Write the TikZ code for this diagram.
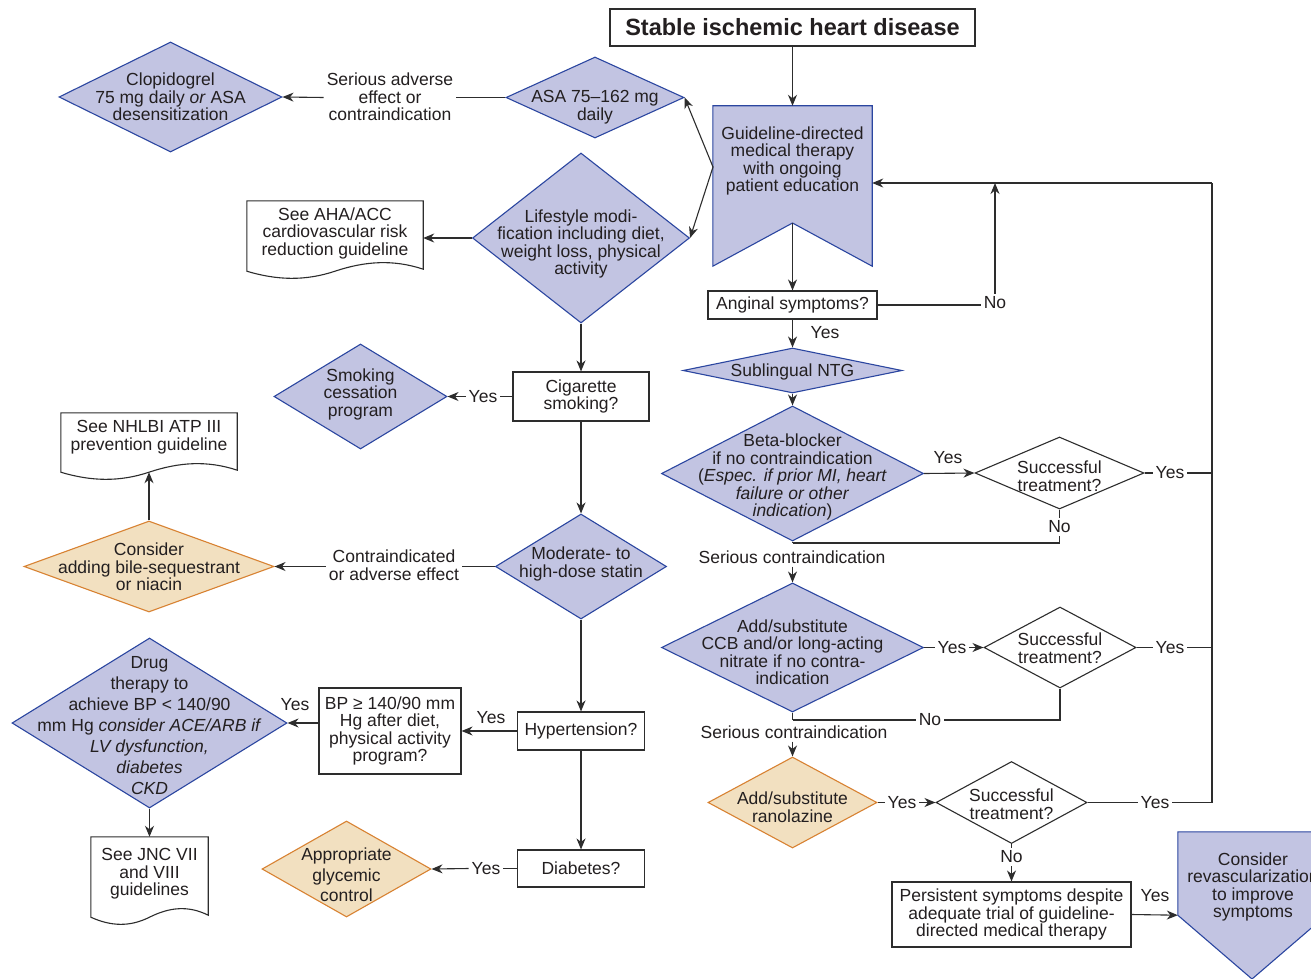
\documentclass[tikz,border=0pt]{standalone}
\usepackage{fontspec}
\setmainfont{Liberation Sans}
\usetikzlibrary{shapes.geometric,arrows.meta,calc}
\definecolor{lavfill}{RGB}{194,196,226}
\definecolor{lavdraw}{RGB}{43,70,160}
\definecolor{orfill}{RGB}{242,224,192}
\definecolor{ordraw}{RGB}{216,130,50}
\definecolor{ink}{RGB}{45,45,45}
\definecolor{txtc}{RGB}{35,31,32}
\newcommand{\fsn}{\fontsize{17.5}{17.5}\selectfont}
\newcommand{\docoutline}[1]{%
 \draw[ink,line width=1.1pt,fill=white] (#1.south west) -- (#1.north west) -- (#1.north east) -- ($(#1.south east)+(0,-2)$)
  .. controls ($(#1.south east)!0.17!(#1.south west)+(0,-12)$) and ($(#1.south east)!0.33!(#1.south west)+(0,-10)$) .. (#1.south)
  .. controls ($(#1.south east)!0.67!(#1.south west)+(0,10)$) and ($(#1.south east)!0.83!(#1.south west)+(0,9)$) .. (#1.south west) -- cycle;}
\begin{document}
\begin{tikzpicture}[x=1pt,y=-1pt,
 conn/.style={draw=ink,line width=1.1pt},
 arr/.style={conn,-{Stealth[length=11pt,width=9pt,inset=3.5pt]}},
 shp/.style={inner sep=0pt,line width=1.1pt},
 lavdia/.style={shp,diamond,draw=lavdraw,fill=lavfill},
 ordia/.style={shp,diamond,draw=ordraw,fill=orfill},
 whdia/.style={shp,diamond,draw=ink,fill=white},
 box/.style={shp,rectangle,draw=ink,fill=white,align=center,font=\fsn,text=txtc},
 ghost/.style={rectangle,inner sep=0pt,draw=none},
 txt/.style={align=center,inner sep=0pt,font=\fsn,text=txtc},
 lbl/.style={align=center,inner sep=3pt,font=\fsn,text=txtc}]
\useasboundingbox (0,0) rectangle (1311,979);
\fill[white] (0,0) rectangle (1311,979);
\clip (0,0) rectangle (1311,979);

% title
\node[box,font=\fontsize{23.5}{24}\selectfont\bfseries,minimum width=365,minimum height=37] (title) at (792.5,27.5) {Stable ischemic heart disease};

% GDMT banner
\node[ghost,minimum width=159,minimum height=160] (gdmt) at (792.5,186) {};
\coordinate (gdmtN) at (792.5,223);
\coordinate (gdmtL) at (713,167);
\draw[lavdraw,fill=lavfill,line width=1.1pt] (gdmt.north west) -- (gdmt.north east) -- (gdmt.south east) -- (gdmtN) -- (gdmt.south west) -- cycle;
\node[txt] (gdmtT) at (792.5,161) {Guideline-directed\\medical therapy\\with ongoing\\patient education};

% ASA / clopidogrel
\node[lavdia,minimum width=178,minimum height=81] (asa) at (595,97.5) {};
\node[txt] (asaT) at (595,107) {ASA 75–162 mg\\daily};
\node[lavdia,minimum width=223,minimum height=110] (clop) at (170.5,97) {};
\node[txt] (clopT) at (170.5,97) {Clopidogrel\\75 mg daily \textit{or} ASA\\desensitization};
\node[lbl] (sae) at (390,97) {Serious adverse\\effect or\\contraindication};

% lifestyle
\node[lavdia,minimum width=217,minimum height=170] (life) at (581,238) {};
\node[txt] (lifeT) at (581,244) {Lifestyle modi-\\fication including diet,\\weight loss, physical\\activity};
\node[ghost,minimum width=176,minimum height=70] (aha) at (335,236) {};
\docoutline{aha}
\node[txt] (ahaT) at (335,233) {See AHA/ACC\\cardiovascular risk\\reduction guideline};

% cigarette
\node[box,minimum width=136,minimum height=49] (cig) at (581,396.5) {Cigarette\\smoking?};
\node[lbl] (ycig) at (483,396.5) {Yes};
\node[lavdia,minimum width=173,minimum height=105] (smoke) at (360.5,396.5) {};
\node[txt] (smokeT) at (360.5,394) {Smoking\\cessation\\program};

% statin
\node[lavdia,minimum width=171,minimum height=105] (statin) at (581,566.5) {};
\node[txt] (statinT) at (581,564) {Moderate- to\\high-dose statin};
\node[lbl] (contra) at (394,565) {Contraindicated\\or adverse effect};
\node[ordia,minimum width=250,minimum height=91] (consider) at (149,566.5) {};
\node[txt] (considerT) at (149,567) {Consider\\adding bile-sequestrant\\or niacin};
\node[ghost,minimum width=176,minimum height=59] (nhlbi) at (149,442.5) {};
\docoutline{nhlbi}
\node[txt] (nhlbiT) at (149,437) {See NHLBI ATP III\\prevention guideline};

% hypertension
\node[box,minimum width=127,minimum height=38] (hyp) at (581,731) {Hypertension?};
\node[lbl] (yhyp) at (491,718) {Yes};
\node[box,minimum width=142,minimum height=86] (bp) at (390,731) {BP ≥ 140/90 mm\\Hg after diet,\\physical activity\\program?};
\node[lbl] (ybp) at (295,705) {Yes};
\node[lavdia,minimum width=275,minimum height=170] (drug) at (149.5,723) {};
\node[txt,font=\fontsize{17.5}{21}\selectfont] (drugT) at (149.5,726) {Drug\\therapy to\\achieve BP < 140/90\\mm Hg \textit{consider ACE/ARB if}\\\textit{LV dysfunction,}\\\textit{diabetes}\\\textit{CKD}};
\node[ghost,minimum width=117,minimum height=80] (jnc) at (149.5,877) {};
\docoutline{jnc}
\node[txt] (jncT) at (149.5,874) {See JNC VII\\and VIII\\guidelines};

% diabetes
\node[box,minimum width=127,minimum height=37] (diab) at (581,868.5) {Diabetes?};
\node[lbl] (ydiab) at (486,868.5) {Yes};
\node[ordia,minimum width=169,minimum height=96] (gly) at (346.5,869) {};
\node[txt,font=\fontsize{17.5}{20.5}\selectfont] (glyT) at (346.5,875) {Appropriate\\glycemic\\control};

% right column
\node[box,minimum width=169,minimum height=28] (ang) at (792.5,305) {Anginal symptoms?};
\node[lbl] (yang) at (825,333) {Yes};
\node[lbl] (nang) at (995,303) {No};
\coordinate (fbTop) at (1212,183);
\node[lavdia,minimum width=219,minimum height=45] (ntg) at (792.5,370.5) {};
\node[txt] (ntgT) at (792.5,372) {Sublingual NTG};
\node[lavdia,minimum width=262,minimum height=135] (beta) at (792.5,473.5) {};
\node[txt] (betaT) at (792.5,477) {Beta-blocker\\if no contraindication\\(\textit{Espec. if prior MI, heart}\\\textit{failure or other}\\\textit{indication})};
\node[lbl] (ybeta) at (948,458) {Yes};
\node[whdia,minimum width=169,minimum height=72] (s1) at (1059.5,473) {};
\node[txt] (s1T) at (1059.5,476) {Successful\\treatment?};
\node[lbl] (ys1) at (1170,473) {Yes};
\node[lbl] (ns1) at (1059.5,527) {No};
\coordinate (j1) at (792.5,543);
\node[lbl] (sc1) at (792,557) {Serious contraindication};
\node[lavdia,minimum width=262,minimum height=129] (ccb) at (792.5,647.5) {};
\node[txt] (ccbT) at (792.5,652) {Add/substitute\\CCB and/or long-acting\\nitrate if no contra-\\indication};
\node[lbl] (yccb) at (952,647.5) {Yes};
\node[whdia,minimum width=152,minimum height=81] (s2) at (1060,647.5) {};
\node[txt] (s2T) at (1060,648) {Successful\\treatment?};
\node[lbl] (ys2) at (1170,647.5) {Yes};
\node[lbl] (ns2) at (930,720) {No};
\coordinate (j2) at (792.5,720);
\node[lbl] (sc2) at (794,732) {Serious contraindication};
\node[ordia,minimum width=169,minimum height=91] (ran) at (792.5,802.5) {};
\node[txt] (ranT) at (792.5,807) {Add/substitute\\ranolazine};
\node[lbl] (yran) at (902,802.5) {Yes};
\node[whdia,minimum width=151,minimum height=82] (s3) at (1011.5,802.5) {};
\node[txt] (s3T) at (1011.5,804) {Successful\\treatment?};
\node[lbl] (ys3) at (1155,802.5) {Yes};
\node[lbl] (ns3) at (1011.5,857) {No};
\node[box,minimum width=239,minimum height=65] (pers) at (1011.5,914.5) {Persistent symptoms despite\\adequate trial of guideline-\\directed medical therapy};
\node[lbl] (ypers) at (1155,896) {Yes};
\node[ghost,minimum width=148,minimum height=83] (rev) at (1252,873.5) {};
\coordinate (revA) at (1252,979);
\draw[lavdraw,fill=lavfill,line width=1.1pt] (rev.north west) -- (rev.north east) -- (rev.south east) -- (revA) -- (rev.south west) -- cycle;
\node[txt] (revT) at (1253,887) {Consider\\revascularization\\to improve\\symptoms};

% connectors left
\draw[arr] (title.south) -- (gdmt.north);
\draw[arr] (gdmtN) -- (ang.north);
\draw[arr] (gdmtL) -- (asa.east);
\draw[arr] (gdmtL) -- (life.east);
\draw[conn] (asa.west) -- (asa.west -| sae.east);
\draw[arr] (asa.west -| sae.west) -- (clop.east);
\draw[arr] (life.west) -- (life.west -| aha.east);
\draw[arr] (life.south) -- (cig.north);
\draw[conn] (cig.west) -- (ycig.east);
\draw[arr] (ycig.west) -- (smoke.east);
\draw[arr] (cig.south) -- (statin.north);
\draw[conn] (statin.west) -- (statin.west -| contra.east);
\draw[arr] (statin.west -| contra.west) -- (consider.east);
\draw[arr] (consider.north) -- (nhlbi.south);
\draw[arr] (statin.south) -- (hyp.north);
\draw[arr] (hyp.west) -- (bp.east);
\draw[arr] (bp.west |- drug.east) -- (drug.east);
\draw[arr] (drug.south) -- (jnc.north);
\draw[arr] (hyp.south) -- (diab.north);
\draw[conn] (diab.west) -- (ydiab.east);
\draw[arr] (ydiab.west) -- (gly.east);

% connectors right
\draw[arr] (ang.south) -- (ntg.north);
\draw[conn] (ang.east) -- (ang.east -| nang.west);
\draw[arr] (nang.north) -- (nang.north |- fbTop);
\draw[arr] (ntg.south) -- (beta.north);
\draw[arr] (beta.east) -- (s1.west);
\draw[conn] (s1.east) -- (ys1.west);
\draw[conn] (ys1.east) -- (ys1.east -| fbTop);
\draw[conn] (s1.south) -- (s1.south |- ns1.north);
\draw[conn] (s1.south |- ns1.south) -- (s1.south |- j1) -- (j1);
\draw[conn] (beta.south) -- (j1);
\draw[arr] (sc1.south -| ccb.north) -- (ccb.north);
\draw[conn] (ccb.east) -- (yccb.west);
\draw[arr] (yccb.east) -- (s2.west);
\draw[conn] (s2.east) -- (ys2.west);
\draw[conn] (ys2.east) -- (ys2.east -| fbTop);
\draw[conn] (s2.south) -- (s2.south |- j2) -- (ns2.east |- j2);
\draw[conn] (ns2.west |- j2) -- (j2);
\draw[conn] (ccb.south) -- (j2);
\draw[arr] (sc2.south -| ran.north) -- (ran.north);
\draw[conn] (ran.east) -- (yran.west);
\draw[arr] (yran.east) -- (s3.west);
\draw[conn] (s3.east) -- (ys3.west);
\draw[conn] (ys3.east) -- (ys3.east -| fbTop) -- (fbTop);
\draw[arr] (fbTop) -- (fbTop -| gdmt.east);
\draw[conn] (s3.south) -- (s3.south |- ns3.north);
\draw[arr] (s3.south |- ns3.south) -- (pers.north);
\draw[arr] (pers.east) -- (rev.south west);
\end{tikzpicture}
\end{document}
